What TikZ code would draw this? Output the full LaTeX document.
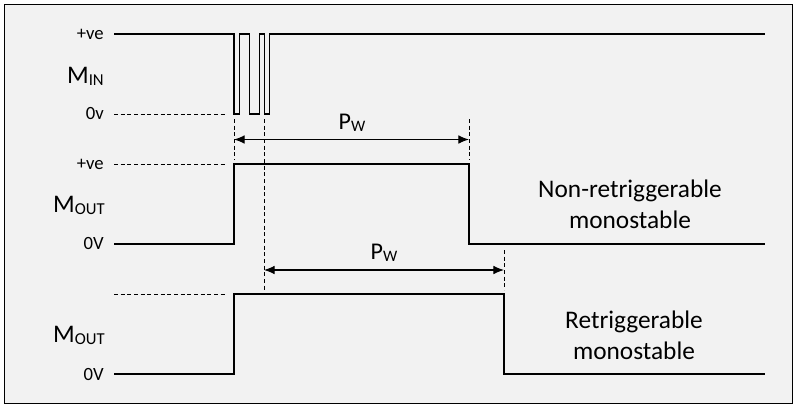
\documentclass[tikz,border=0pt]{standalone}
\usepackage{fontspec}
\setmainfont{Carlito}
\usetikzlibrary{arrows.meta}
\definecolor{bg}{HTML}{F2F2F2}
\newcommand{\sigM}[1]{{\fontsize{19}{22}\selectfont M}\raisebox{-2pt}{\fontsize{12.5}{14}\selectfont #1}}
\newcommand{\pwlab}{{\fontsize{18}{21}\selectfont P}\raisebox{-2pt}{\fontsize{12}{14}\selectfont W}}
\begin{document}
\begin{tikzpicture}[x=0.75pt,y=-0.75pt,
  wave/.style={line width=1.1pt, line join=miter},
  guide/.style={line width=0.6pt, dash pattern=on 3pt off 2pt},
  dim/.style={line width=0.8pt, {Latex[length=8pt,width=6.5pt]}-{Latex[length=8pt,width=6.5pt]}},
  lvl/.style={anchor=east, inner sep=0pt, font=\fontsize{14}{16}\selectfont},
  sig/.style={anchor=base east, inner sep=0pt},
  pw/.style={anchor=base, inner sep=0pt},
  captxt/.style={align=center, font=\fontsize{19}{23}\selectfont, inner sep=0pt}]
\useasboundingbox (0,0) rectangle (798,407);
\draw[fill=bg, line width=0.75pt] (4.5,4.5) rectangle (792.5,403.5);

% level labels
\node[lvl] (pve1) at (104,34) {+ve};
\node[lvl] (zv1) at (104,114) {0v};
\node[lvl] (pve2) at (104,164) {+ve};
\node[lvl] (zv2) at (104,244) {0V};
\node[lvl] (zv3) at (104,374) {0V};

% signal labels
\node[sig] (min) at (104,83) {\sigM{IN}};
\node[sig] (mout1) at (105,212) {\sigM{OUT}};
\node[sig] (mout2) at (105,342) {\sigM{OUT}};

% captions
\node[captxt] (cap1) at (630,204) {Non-retriggerable\\monostable};
\node[captxt] (cap2) at (634,335) {Retriggerable\\monostable};

% key coordinates
\coordinate (a1) at (234,139.5);
\coordinate (b1) at (469,139.5);
\coordinate (a2) at (264,270);
\coordinate (b2) at (504,270);

% M_IN waveform
\draw[wave] (114,34) -- (234,34) -- (234,114) -- (239.5,114) -- (239.5,34) -- (249.5,34)
  -- (249.5,114) -- (259.5,114) -- (259.5,34) -- (264.5,34) -- (264.5,114) -- (269.5,114)
  -- (269.5,34) -- (765,34);
\draw[guide] (114,114) -- (225,114);

% M_OUT non-retriggerable
\draw[guide] (114,164) -- (225,164);
\draw[wave] (114,244) -- (234,244) -- (234,164) -- (469,164) -- (469,244) -- (765,244);

% M_OUT retriggerable
\draw[guide] (114,294) -- (225,294);
\draw[wave] (114,374) -- (234,374) -- (234,294) -- (504,294) -- (504,374) -- (765,374);

% guide verticals
\draw[guide] (234,119) -- (234,160);
\draw[guide] (264.5,119) -- (264.5,290);
\draw[guide] (469,119) -- (469,160);
\draw[guide] (504,250) -- (504,290);

% dimension arrows
\draw[dim] (a1) -- (b1);
\draw[dim] (a2) -- (b2);
\node[pw] (pw1) at (352,129) {\pwlab};
\node[pw] (pw2) at (384,259) {\pwlab};
\end{tikzpicture}
\end{document}
